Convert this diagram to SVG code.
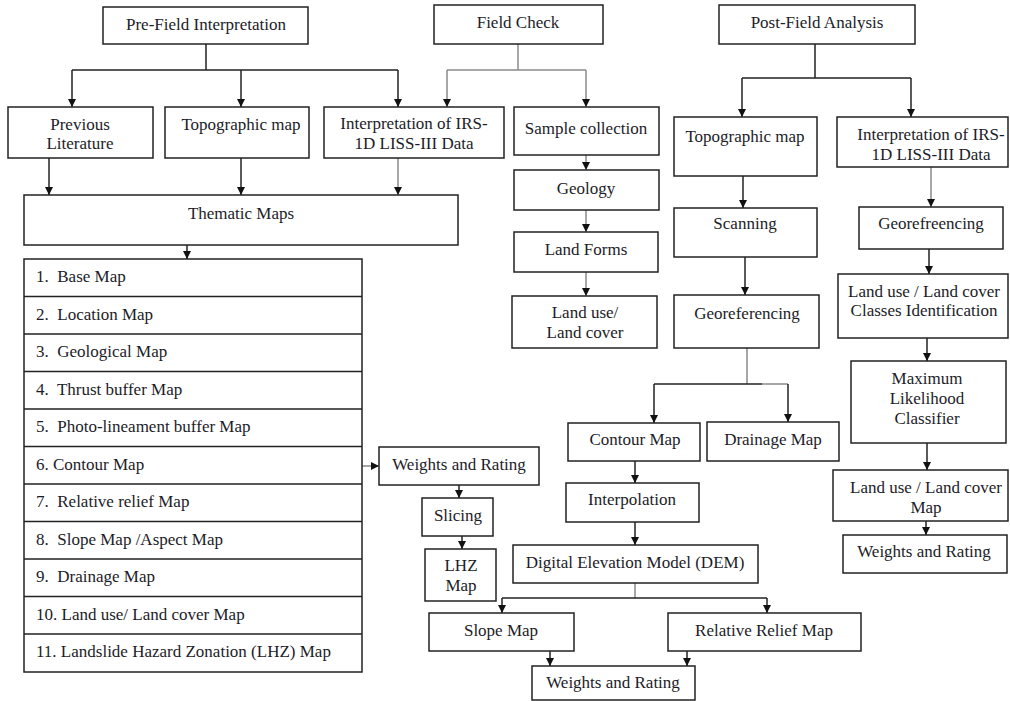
<svg xmlns="http://www.w3.org/2000/svg" width="1010" height="701" viewBox="0 0 1010 701">
<defs>
<marker id="ah" markerWidth="8" markerHeight="9" refX="8" refY="4.5" orient="auto" markerUnits="userSpaceOnUse"><path d="M0,0.5 L8,4.5 L0,8.5 z" fill="#111"/></marker>
</defs>
<style>
rect{fill:#fff;stroke:#222;stroke-width:1.5}
text{font-family:"Liberation Serif","Times New Roman",serif;font-size:17px;fill:#1c1c28}
.c{text-anchor:middle}
.k{fill:none;stroke:#222;stroke-width:1.5}
.g{fill:none;stroke:#8a8a8a;stroke-width:1.5}
.a{marker-end:url(#ah)}
</style>
<rect x="0" y="0" width="1010" height="701" style="fill:#fff;stroke:none"/>
<g id="connectors">
<path class="k" d="M206,44 V70 M72,70 H398"/>
<path class="k a" d="M72,70 V107"/>
<path class="k a" d="M241,70 V107"/>
<path class="k a" d="M398,70 V107"/>
<path class="g" d="M518,44 V70 M447,70 H586"/>
<path class="g a" d="M447,70 V107"/>
<path class="g a" d="M586,70 V107"/>
<path class="k a" d="M49,158 V195"/>
<path class="k a" d="M241,158 V195"/>
<path class="g a" d="M398,158 V195"/>
<path class="k a" d="M187,245 V259"/>
<path class="g a" d="M586,155 V170"/>
<path class="g a" d="M586,210 V232"/>
<path class="g a" d="M586,272 V296"/>
<path class="k" d="M815,44 V78 M742,78 H911"/>
<path class="k a" d="M742,78 V117"/>
<path class="k a" d="M911,78 V117"/>
<path class="k a" d="M743,176 V208"/>
<path class="k a" d="M745,257 V295"/>
<path class="g a" d="M931,167 V207"/>
<path class="k a" d="M929,249 V274"/>
<path class="k a" d="M927,338 V361"/>
<path class="k a" d="M927,443 V470"/>
<path class="k a" d="M926,521 V535"/>
<path class="g" d="M747,348 V384"/>
<path class="k" d="M654,384 H762"/>
<path class="g" d="M762,384 H788"/>
<path class="k a" d="M654,384 V423"/>
<path class="k a" d="M788,384 V422"/>
<path class="k a" d="M635,461 V483"/>
<path class="k a" d="M635,522 V545"/>
<path class="g" d="M635,583 V598"/>
<path class="k" d="M502,598 H767"/>
<path class="k a" d="M502,598 V613"/>
<path class="k a" d="M767,598 V613"/>
<path class="k a" d="M550,651 V666"/>
<path class="k a" d="M687,651 V666"/>
<path class="g a" d="M362,466 H379"/>
<path class="k a" d="M459,485 V498"/>
<path class="k a" d="M462,536 V549"/>
</g>
<g id="pre-field"><rect x="103" y="7" width="205" height="37"/><text class="c" x="206" y="30">Pre-Field Interpretation</text></g>
<g id="field-check"><rect x="434" y="5" width="169" height="39"/><text class="c" x="518" y="28">Field Check</text></g>
<g id="post-field"><rect x="719" y="5" width="196" height="39"/><text class="c" x="817" y="28">Post-Field Analysis</text></g>
<g id="previous-literature"><rect x="8" y="107" width="145" height="51"/><text class="c" x="80" y="130">Previous</text><text class="c" x="80" y="149">Literature</text></g>
<g id="topo-map-1"><rect x="165" y="107" width="144" height="51"/><text class="c" x="241" y="130">Topographic map</text></g>
<g id="irs-1"><rect x="324" y="107" width="180" height="51"/><text class="c" x="414" y="129">Interpretation of IRS-</text><text class="c" x="414" y="149">1D LISS-III Data</text></g>
<g id="sample-collection"><rect x="514" y="107" width="145" height="48"/><text class="c" x="586" y="134">Sample collection</text></g>
<g id="geology"><rect x="514" y="170" width="145" height="40"/><text class="c" x="586" y="194">Geology</text></g>
<g id="land-forms"><rect x="514" y="232" width="144" height="40"/><text class="c" x="586" y="255">Land Forms</text></g>
<g id="land-use-1"><rect x="512" y="296" width="145" height="52"/><text class="c" x="585" y="318">Land use/</text><text class="c" x="585" y="338">Land cover</text></g>
<g id="thematic-maps"><rect x="24" y="195" width="434" height="50"/><text class="c" x="241" y="219">Thematic Maps</text></g>
<g id="thematic-list">
<rect x="24" y="259" width="338" height="413"/>
<path class="k" d="M24,296.5 H362 M24,334 H362 M24,371.5 H362 M24,409 H362 M24,446.5 H362 M24,484 H362 M24,521.5 H362 M24,559 H362 M24,596.5 H362 M24,634 H362"/>
<text x="36" y="282" xml:space="preserve">1.  Base Map</text>
<text x="36" y="319.5" xml:space="preserve">2.  Location Map</text>
<text x="36" y="357" xml:space="preserve">3.  Geological Map</text>
<text x="36" y="394.5" xml:space="preserve">4.  Thrust buffer Map</text>
<text x="36" y="432" xml:space="preserve">5.  Photo-lineament buffer Map</text>
<text x="36" y="469.5">6. Contour Map</text>
<text x="36" y="507" xml:space="preserve">7.  Relative relief Map</text>
<text x="36" y="544.5" xml:space="preserve">8.  Slope Map /Aspect Map</text>
<text x="36" y="582" xml:space="preserve">9.  Drainage Map</text>
<text x="36" y="619.5">10. Land use/ Land cover Map</text>
<text x="36" y="657">11. Landslide Hazard Zonation (LHZ) Map</text>
</g>
<g id="weights-rating-1"><rect x="379" y="447" width="160" height="38"/><text class="c" x="459" y="470">Weights and Rating</text></g>
<g id="slicing"><rect x="422" y="498" width="71" height="38"/><text class="c" x="458" y="521">Slicing</text></g>
<g id="lhz-map"><rect x="425" y="549" width="71" height="52"/><text class="c" x="461" y="571">LHZ</text><text class="c" x="461" y="591">Map</text></g>
<g id="topo-map-2"><rect x="674" y="117" width="143" height="59"/><text class="c" x="745" y="142">Topographic map</text></g>
<g id="scanning"><rect x="674" y="208" width="143" height="49"/><text class="c" x="745" y="229">Scanning</text></g>
<g id="georeferencing"><rect x="674" y="295" width="145" height="53"/><text class="c" x="747" y="319">Georeferencing</text></g>
<g id="irs-2"><rect x="837" y="117" width="171" height="50"/><text class="c" x="931" y="140">Interpretation of IRS-</text><text class="c" x="931" y="160">1D LISS-III Data</text></g>
<g id="georefreencing"><rect x="859" y="207" width="144" height="42"/><text class="c" x="931" y="229">Georefreencing</text></g>
<g id="lu-classes"><rect x="838" y="274" width="170" height="64"/><text class="c" x="924" y="297">Land use / Land cover</text><text class="c" x="924" y="316">Classes Identification</text></g>
<g id="mlc"><rect x="851" y="361" width="155" height="82"/><text class="c" x="927" y="384">Maximum</text><text class="c" x="927" y="404">Likelihood</text><text class="c" x="927" y="424">Classifier</text></g>
<g id="lu-map"><rect x="833" y="470" width="175" height="51"/><text class="c" x="926" y="493">Land use / Land cover</text><text class="c" x="926" y="513">Map</text></g>
<g id="weights-rating-3"><rect x="843" y="535" width="164" height="38"/><text class="c" x="924" y="557">Weights and Rating</text></g>
<g id="contour-map"><rect x="568" y="423" width="132" height="38"/><text class="c" x="635" y="445">Contour Map</text></g>
<g id="drainage-map"><rect x="707" y="422" width="132" height="39"/><text class="c" x="773" y="445">Drainage Map</text></g>
<g id="interpolation"><rect x="566" y="483" width="133" height="39"/><text class="c" x="632" y="505">Interpolation</text></g>
<g id="dem"><rect x="513" y="545" width="245" height="38"/><text class="c" x="635" y="568">Digital Elevation Model (DEM)</text></g>
<g id="slope-map"><rect x="429" y="613" width="145" height="38"/><text class="c" x="501" y="636">Slope Map</text></g>
<g id="relative-relief"><rect x="668" y="613" width="193" height="38"/><text class="c" x="764" y="636">Relative Relief Map</text></g>
<g id="weights-rating-2"><rect x="532" y="666" width="163" height="34"/><text class="c" x="613" y="688">Weights and Rating</text></g>
</svg>
